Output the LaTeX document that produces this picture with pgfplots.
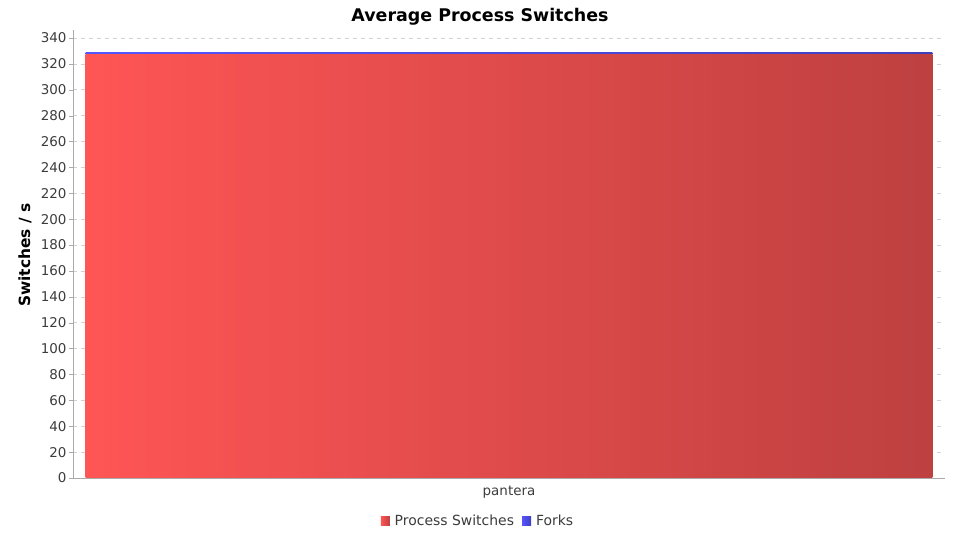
\documentclass[border=0pt]{standalone}
\usepackage{pgfplots}
\pgfplotsset{compat=1.18}
\usepackage{fontspec}
\setmainfont{DejaVu Sans}
\definecolor{redL}{RGB}{255,85,85}
\definecolor{redR}{RGB}{190,64,64}
\definecolor{bluL}{RGB}{85,85,255}
\definecolor{bluR}{RGB}{64,64,190}
\definecolor{axgray}{RGB}{170,170,170}
\definecolor{gridgray}{RGB}{210,210,210}
\definecolor{txt}{RGB}{60,60,60}
\begin{document}
\begin{tikzpicture}[x=1bp,y=1bp]
\useasboundingbox (-73bp,-62bp) rectangle (887bp,478bp);
\begin{axis}[
  at={(0,0)}, anchor=south west,
  scale only axis, width=872bp, height=448bp,
  xmin=0, xmax=1, ymin=0, ymax=346.2,
  ybar stacked, bar width=0.9713,
  xtick={0.5}, xticklabels={pantera},
  ytick={0,20,...,340},
  axis x line*=bottom, axis y line*=left,
  axis line style={draw=axgray},
  ymajorgrids,
  grid style={draw=gridgray, dash pattern=on 4bp off 4bp, line width=0.6bp},
  major x tick style={draw=none},
  major y tick style={draw=axgray},
  tick align=outside, major tick length=4bp,
  tick label style={font=\fontsize{13.5}{16}\selectfont, text=txt},
  yticklabel style={xshift=1bp},
  /pgf/number format/assume math mode=true,
  xticklabel style={yshift=-1bp},
  legend style={at={(0.4644,-0.096)}, anchor=center, draw=none, legend columns=-1,
    font=\fontsize{14}{16}\selectfont, text=txt,
    /tikz/every odd column/.append style={column sep=3bp},
    /tikz/every even column/.append style={column sep=6bp}},
  legend image code/.code={\fill[#1] (0bp,-4.5bp) rectangle (9bp,4.5bp);},
]
\addplot[draw=none, left color=redL, right color=redR, fill=redL] coordinates {(0.5,327.0)};
\addlegendentry{Process Switches}
\addplot[draw=none, left color=bluL, right color=bluR, fill=bluL] coordinates {(0.5,1.5)};
\addlegendentry{Forks}
\end{axis}
\node[font=\bfseries\fontsize{17.5}{20}\selectfont] at (407bp,461bp) {Average Process Switches};
\node[rotate=90, font=\bfseries\fontsize{15.5}{18}\selectfont] at (-48bp,223bp) {Switches / s};
\end{tikzpicture}
\end{document}
